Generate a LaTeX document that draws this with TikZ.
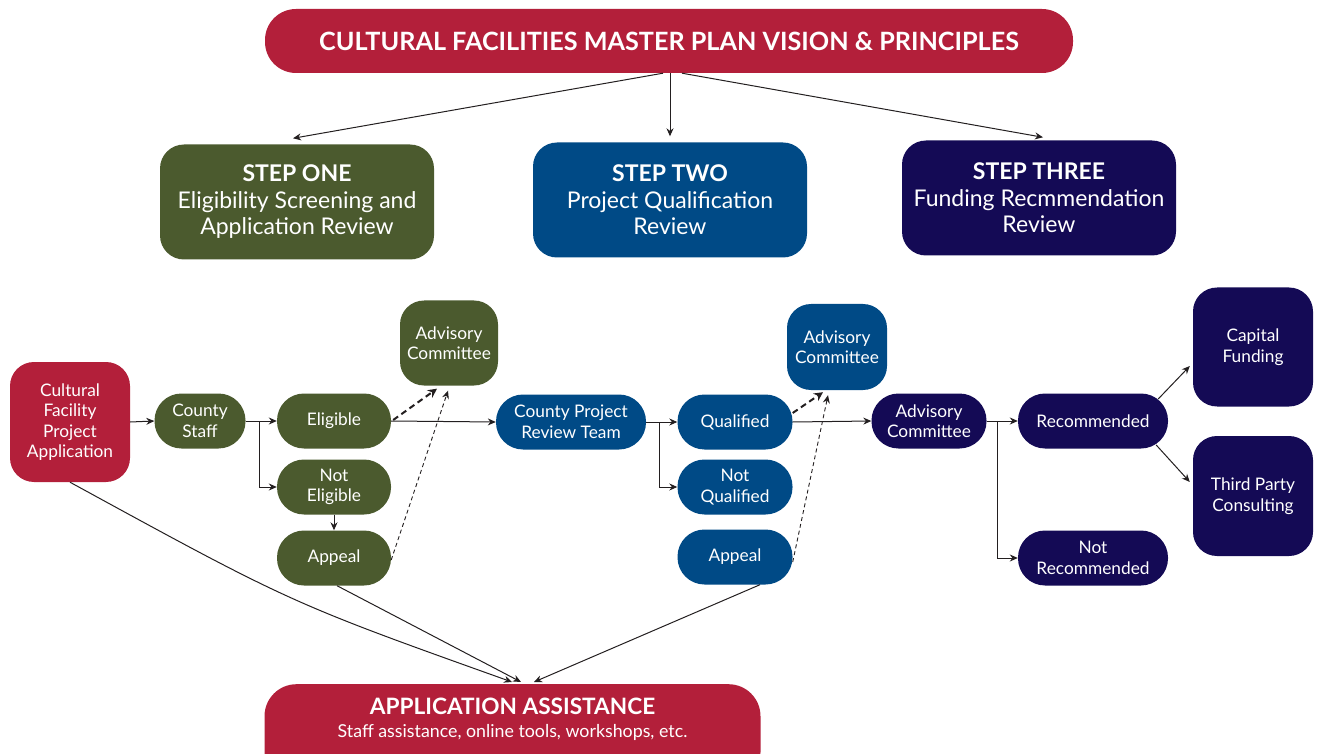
\documentclass[tikz,border=0pt]{standalone}
\usepackage{fontspec}
\setmainfont{Lato}
\usetikzlibrary{arrows.meta}
\definecolor{cfred}{HTML}{B31F3A}
\definecolor{cfgreen}{HTML}{4B5A2E}
\definecolor{cfblue}{HTML}{004A86}
\definecolor{cfnavy}{HTML}{140A55}
\definecolor{ink}{HTML}{231F20}
\begin{document}
\begin{tikzpicture}[x=1pt,y=-1pt,
  box/.style={rectangle, inner sep=0pt, text=white, align=center,
    font=\fontsize{17.3}{20.5}\selectfont},
  pill/.style={box, minimum height=55pt, rounded corners=27pt},
  tile/.style={box, rounded corners=24pt},
  stepbox/.style={box, minimum width=274pt, minimum height=115pt, rounded corners=24pt,
    font=\fontsize{23}{26.5}\selectfont},
  arr/.style={draw=ink, line width=1pt, -{Stealth[length=8pt,width=7pt]}},
  dashthick/.style={draw=ink, line width=2pt, dash pattern=on 6pt off 4pt,
    -{Stealth[length=9pt,width=9pt]}},
  dashthin/.style={draw=ink, line width=0.9pt, dash pattern=on 4pt off 3pt,
    -{Stealth[length=8pt,width=7pt]}}
]
\useasboundingbox (0,0) rectangle (1318,754);
\clip (0,0) rectangle (1318,754);

% vision banner and the three steps
\node[box, fill=cfred, minimum width=808pt, minimum height=64pt, rounded corners=31pt,
  font=\bfseries\fontsize{25.2}{28}\selectfont] (vision) at (669,41)
  {CULTURAL FACILITIES MASTER PLAN VISION \& PRINCIPLES};
\node[stepbox, fill=cfgreen] (s1) at (297,202)
  {\textbf{STEP ONE}\\Eligibility Screening and\\Application Review};
\node[stepbox, fill=cfblue] (s2) at (670,200)
  {\textbf{STEP TWO}\\Project Qualification\\Review};
\node[stepbox, fill=cfnavy] (s3) at (1039,198)
  {\textbf{STEP THREE}\\Funding Recmmendation\\Review};

% step one nodes
\node[tile, fill=cfred, minimum width=120pt, minimum height=120pt] (app) at (70,422)
  {Cultural\\Facility\\Project\\Application};
\node[pill, fill=cfgreen, minimum width=91pt] (cs) at (200,421) {County\\Staff};
\node[pill, fill=cfgreen, minimum width=114pt] (elig) at (334,421) {Eligible};
\node[pill, fill=cfgreen, minimum width=114pt] (nelig) at (334,487) {Not\\Eligible};
\node[pill, fill=cfgreen, minimum width=114pt] (apg) at (334,558) {Appeal};
\node[tile, fill=cfgreen, minimum width=98pt, minimum height=85pt] (advg) at (449,343)
  {Advisory\\Committee};

% step two nodes
\node[pill, fill=cfblue, minimum width=150pt] (cprt) at (571,422) {County Project\\Review Team};
\node[pill, fill=cfblue, minimum width=115pt] (qual) at (735,422) {Qualified};
\node[pill, fill=cfblue, minimum width=115pt] (nqual) at (735,487) {Not\\Qualified};
\node[pill, fill=cfblue, minimum width=115pt] (apb) at (735,557) {Appeal};
\node[tile, fill=cfblue, minimum width=100pt, minimum height=86pt] (advb) at (837,347)
  {Advisory\\Committee};

% step three nodes
\node[pill, fill=cfnavy, minimum width=115pt] (advn) at (929,421) {Advisory\\Committee};
\node[pill, fill=cfnavy, minimum width=150pt] (rec) at (1093,421) {Recommended};
\node[pill, fill=cfnavy, minimum width=150pt] (nrec) at (1093,558) {Not\\Recommended};
\node[tile, fill=cfnavy, minimum width=120pt, minimum height=119pt] (cap) at (1253,347)
  {Capital\\Funding};
\node[tile, fill=cfnavy, minimum width=120pt, minimum height=120pt] (tpc) at (1253,496)
  {Third Party\\Consulting};

% application assistance banner, running off the bottom edge
\node[box, fill=cfred, minimum width=496pt, minimum height=100pt, rounded corners=32pt,
  anchor=north] (aa) at (512.5,684) {};
\node[box, font=\fontsize{17.8}{23}\selectfont] (aatext) at (512.5,719)
  {{\bfseries\fontsize{22.6}{23}\selectfont APPLICATION ASSISTANCE}\\
   Staff assistance, online tools, workshops, etc.};

% vision to steps
\draw[arr] ([xshift=-6pt]vision.south) -- ([xshift=-4pt,yshift=6pt]s1.north);
\draw[arr] ([xshift=1pt]vision.south) -- ([yshift=6pt]s2.north);
\draw[arr] ([xshift=13pt]vision.south) -- ([xshift=4pt,yshift=3pt]s3.north);

% step one flow
\draw[arr] (app.east) -- (cs.west);
\draw[arr] (cs.east) -- (elig.west);
\draw[arr] ([xshift=14pt]cs.east) |- (nelig.west);
\draw[arr] (nelig.south) -- (apg.north);
\draw[arr] (elig.east) -- (cprt.west);
\draw[dashthick] ([xshift=2pt,yshift=1pt]elig.east) -- ([xshift=-12pt,yshift=-3pt]advg.south);
\draw[dashthin] ([yshift=-2pt]apg.east) -- ([xshift=-1pt,yshift=-5pt]advg.south);

% step two flow
\draw[arr] (cprt.east) -- (qual.west);
\draw[arr] ([xshift=13pt]cprt.east) |- (nqual.west);
\draw[arr] (qual.east) -- (advn.west);
\draw[dashthick] ([yshift=9pt]qual.east) -- ([xshift=-14pt,yshift=-2pt]advb.south);
\draw[dashthin] ([yshift=-5pt]apb.east) -- ([xshift=-9pt,yshift=-5pt]advb.south);

% step three flow
\draw[arr] (advn.east) -- (rec.west);
\draw[arr] ([xshift=11pt]advn.east) |- (nrec.west);
\draw[arr] ([xshift=-10pt,yshift=22pt]rec.east) -- ([xshift=-3pt,yshift=-19pt]cap.west);
\draw[arr] ([xshift=-12pt,yshift=-24pt]rec.east) -- ([xshift=-3pt,yshift=14pt]tpc.west);

% links down to application assistance
\draw[arr] (app.south) .. controls (291,603) .. ([xshift=-0.5pt,yshift=2pt]aa.north);
\draw[arr] ([xshift=3pt]apg.south) -- ([xshift=8.5pt,yshift=2pt]aa.north);
\draw[arr] ([xshift=25pt]apb.south) -- ([xshift=21.5pt,yshift=2pt]aa.north);
\end{tikzpicture}
\end{document}
